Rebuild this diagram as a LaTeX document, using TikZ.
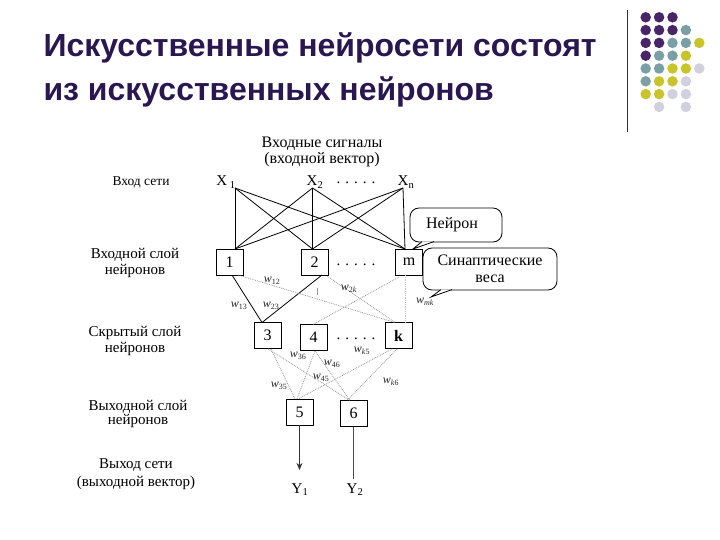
\documentclass[tikz,border=0pt]{standalone}
\usepackage{fontspec}
\setmainfont{Liberation Serif}
\newfontfamily\titlefont{Liberation Sans}
\usetikzlibrary{arrows.meta}
\definecolor{titlecol}{RGB}{42,22,80}
\definecolor{dpurple}{RGB}{72,36,104}
\definecolor{dteal}{RGB}{122,160,166}
\definecolor{dyellow}{RGB}{200,196,42}
\definecolor{dgray}{RGB}{208,208,222}
\definecolor{wline}{RGB}{150,150,150}
\tikzset{
  titletext/.style={anchor=base west, text=titlecol, font=\titlefont\bfseries\fontsize{32}{36}\selectfont},
  lbl/.style={font=\fontsize{15}{16}\selectfont, align=center, inner sep=0pt},
  nbox/.style={draw, line width=0.8pt, minimum width=27pt, minimum height=26pt, inner sep=0pt, font=\fontsize{16}{16}\selectfont},
  wl/.style={font=\fontsize{12}{12}\selectfont, inner sep=0pt, text=black!85},
  sline/.style={line width=0.8pt},
  gline/.style={wline, line width=0.8pt, densely dotted},
  bubble/.style={draw, line width=0.8pt, rounded corners=9pt, fill=white},
  dot/.style={circle, inner sep=0pt, minimum size=10.5pt}
}
\begin{document}
\begin{tikzpicture}[x=1pt,y=-1pt]
\useasboundingbox (0,0) rectangle (720,540);
\fill[white] (0,0) rectangle (720,540);
% title
\node[titletext] (title1) at (40,57) {Искусственные нейросети состоят};
\node[titletext] (title2) at (40,101) {из искусственных нейронов};
% decoration
\draw[line width=0.8pt, black!80] (627,10) -- (627,132);
\foreach \r/\cols in {0/{dpurple,dpurple,dpurple},
                      1/{dpurple,dpurple,dpurple,dteal},
                      2/{dpurple,dpurple,dteal,dteal,dyellow},
                      3/{dpurple,dteal,dteal,dyellow},
                      4/{dteal,dteal,dyellow,dyellow,dgray},
                      5/{dteal,dyellow,dyellow,dgray},
                      6/{dyellow,dyellow,dgray,dgray},
                      7/{white,dgray,white,dgray}}{
  \foreach \c [count=\i from 0] in \cols {
    \node[dot, fill=\c] (d\r\i) at ({645.7+13.4*\i},{17.3+12.8*\r}) {};
  }
}
% left labels
\node[lbl, font=\fontsize{13.5}{16}\selectfont] (lin) at (141,182) {Вход сети};
\node[lbl] (linl) at (135,263) {Входной слой\\нейронов};
\node[lbl] (lhid) at (135,341) {Скрытый слой\\нейронов};
\node[lbl, font=\fontsize{15}{14}\selectfont] (lout) at (138,414) {Выходной слой\\нейронов};
\node[lbl, font=\fontsize{15}{18}\selectfont] (lres) at (136,474) {Выход сети\\(выходной вектор)};
% top labels
\node[lbl, font=\fontsize{16}{15.5}\selectfont] (sig) at (322,152) {Входные сигналы\\(входной вектор)};
\node[lbl, anchor=base] (x1) at (226,186) {X\,\textsubscript{1}};
\node[lbl, anchor=base] (x2) at (315,186) {X\textsubscript{2}};
\node[lbl, anchor=base] (xd) at (356,184) {.\,\,.\,\,.\,\,.\,\,.};
\node[lbl, anchor=base] (xn) at (406,186) {X\textsubscript{n}};
\coordinate (px1) at (235,188);
\coordinate (px2) at (312.5,188);
\coordinate (pxn) at (403,188);
% input layer
\node[nbox] (n1) at (229.5,262) {1};
\node[nbox] (n2) at (314.5,262) {2};
\node[nbox] (nm) at (409,262) {m};
\node[lbl, anchor=base] (d1) at (356,265) {.\,\,.\,\,.\,\,.\,\,.};
\coordinate (t1) at (235,249);
\coordinate (t2) at (312.5,249);
\coordinate (tm) at (405,249);
\foreach \a in {px1,px2,pxn}{
  \foreach \b in {t1,t2,tm}{
    \draw[sline] (\a) -- (\b);
  }
}
% hidden layer
\node[nbox] (n3) at (267.5,335.5) {3};
\node[nbox] (n4) at (313.5,337.5) {4};
\node[nbox] (nk) at (398.5,335.5) {\textbf{k}};
\node[lbl, anchor=base] (d2) at (356,339) {.\,\,.\,\,.\,\,.\,\,.};
\coordinate (b1) at (232,275);
\coordinate (b1r) at (238,275);
\coordinate (b2) at (322,275);
\coordinate (b2r) at (327,276);
\coordinate (bm) at (405,275);
\coordinate (bml) at (399,277);
\coordinate (h3) at (262,322.5);
\coordinate (h4) at (313,324.5);
\coordinate (hk) at (395,322.5);
\coordinate (hkr) at (405,322.5);
\draw[sline] (b1) -- (h3);
\draw[sline] (b2) -- (h3);
\draw[gline] (b1r) -- (hk);
\draw[gline] (b2r) -- (hk);
\draw[gline] (bml) -- (h4);
\draw[gline, black!25] (bm) -- (hkr);
\draw[wline, line width=0.6pt] (317,288) -- (317,295);
\node[wl] (w13) at (239,306) {\textit{w}\textsubscript{13}};
\node[wl] (w23) at (271,306) {\textit{w}\textsubscript{23}};
\node[wl] (w12) at (272,281) {\textit{w}\textsubscript{12}};
\node[wl] (w2k) at (349,289) {\textit{w}\textsubscript{2\textit{k}}};
\node[wl] (wmk) at (425,302) {\textit{w}\textsubscript{\textit{mk}}};
% output layer
\node[nbox] (n5) at (299.5,412) {5};
\node[nbox] (n6) at (353.5,413.5) {6};
\coordinate (c3a) at (271,349);
\coordinate (c3b) at (268,349);
\coordinate (c4) at (315,351);
\coordinate (ck5) at (392,349);
\coordinate (ck6) at (397,349);
\coordinate (i5a) at (295,399);
\coordinate (i5b) at (297,399);
\coordinate (i5c) at (298,399);
\coordinate (i6a) at (350,400.5);
\coordinate (i6b) at (347,400.5);
\draw[gline] (c3a) -- (i5a);
\draw[gline] (c3b) -- (i6a);
\draw[gline] (c4) -- (i5b);
\draw[gline] (c4) -- (i6a);
\draw[gline] (ck5) -- (i5c);
\draw[gline] (ck6) -- (i6b);
\node[wl] (w36) at (298,356) {\textit{w}\textsubscript{36}};
\node[wl] (w46) at (332,364) {\textit{w}\textsubscript{46}};
\node[wl] (w45) at (321,378) {\textit{w}\textsubscript{45}};
\node[wl] (wk5) at (362,351) {\textit{w}\textsubscript{\textit{k}5}};
\node[wl] (w35) at (279,386) {\textit{w}\textsubscript{35}};
\node[wl] (wk6) at (391,382) {\textit{w}\textsubscript{\textit{k}6}};
% outputs
\node[lbl, anchor=base] (y1) at (300,493) {Y\textsubscript{1}};
\node[lbl, anchor=base] (y2) at (355,493) {Y\textsubscript{2}};
\draw[line width=1pt, black!80, -{Stealth[length=7pt,width=6pt]}] (n5.south) -- (n5.south |- 0,470) coordinate (e5);
\draw[line width=1pt, black!70] (n6.south) -- (n6.south |- 0,479) coordinate (e6);
% bubbles
\node[bubble, minimum width=92pt, minimum height=34pt, lbl, font=\fontsize{16}{16}\selectfont] (bn) at (456,225) {\hspace*{-8pt}Нейрон};
\draw[line width=0.8pt, fill=white] (422,241.6) -- (413,249) -- (434,241.6);
\node[bubble, minimum width=134pt, minimum height=42pt, lbl, font=\fontsize{16}{17}\selectfont] (bs) at (490,269) {Синаптические\\веса};
\draw[line width=0.8pt, fill=white] (441,289.6) -- (431,297) -- (452,289.6);
\end{tikzpicture}
\end{document}
